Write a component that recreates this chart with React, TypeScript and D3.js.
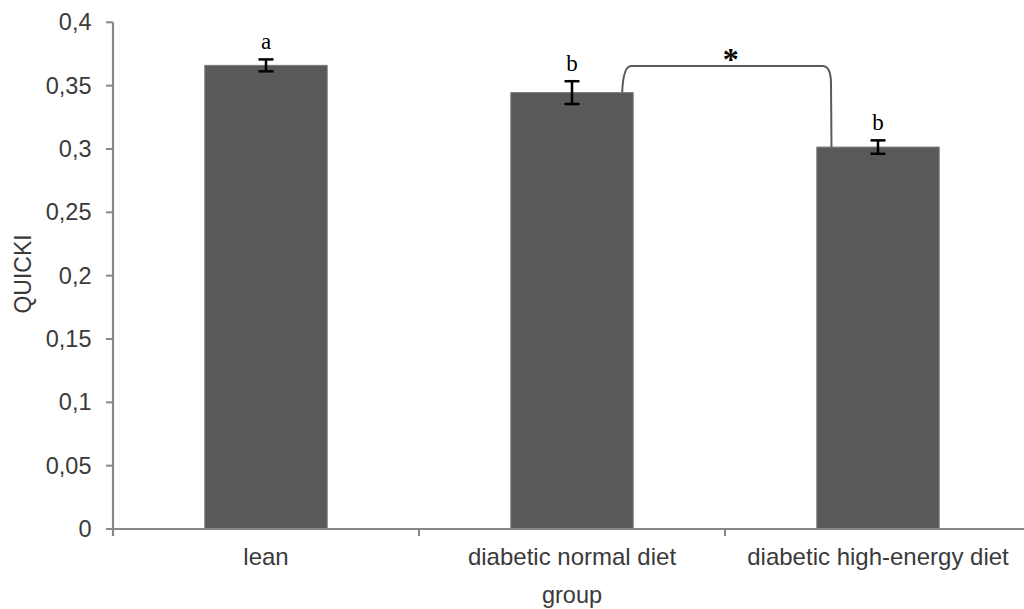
import React from 'react';
import * as d3 from 'd3';

// data
const categories = ['lean', 'diabetic normal diet', 'diabetic high-energy diet'];
const means = [0.366, 0.3445, 0.3015];
const errors = [0.0047, 0.009, 0.0053];
const letters = ['a', 'b', 'b'];
const yTicks = [0, 0.05, 0.1, 0.15, 0.2, 0.25, 0.3, 0.35, 0.4];
const yTickLabels = ['0', '0,05', '0,1', '0,15', '0,2', '0,25', '0,3', '0,35', '0,4'];
// significance bracket between group 2 and 3
const bracketLevel = 0.3655;

const width = 1024;
const height = 609;
const sans = '"Liberation Sans", Arial, sans-serif';
const serif = '"Liberation Serif", "Times New Roman", serif';
const axisColor = '#878787';
const textColor = '#3a3a3a';

export default function App () {
  const x = d3.scaleBand()
    .domain(categories)
    .range([113, 1031])
    .paddingInner(0.6)
    .paddingOuter(0.3);
  const y = d3.scaleLinear().domain([0, 0.4]).range([529, 22.3]);
  const bw = x.bandwidth();
  const step = x.step();
  const x0 = 113;

  // bracket path
  const bx1 = x(categories[1])! + bw * 0.91;
  const by1 = y(means[1]);
  const bx2 = x(categories[2])! + bw * 0.12;
  const by2 = y(means[2]);
  const top = y(bracketLevel);
  const bracket = d3.path();
  bracket.moveTo(bx1, by1);
  bracket.quadraticCurveTo(bx1 + 1, top, bx1 + 9, top);
  bracket.lineTo(bx2 - 9, top);
  bracket.quadraticCurveTo(bx2 - 1, top, bx2 - 0.5, top + 16);
  bracket.lineTo(bx2, by2);

  return (
    <svg width={width} height={height}
      style={{ position: 'absolute', left: 0, top: 0, display: 'block', background: '#fff' }}>
      {/* bars */}
      {categories.map((c, i) => (
        <rect key={c} x={x(c)} y={y(means[i])} width={bw} height={y(0) - y(means[i])}
          fill="#595959" stroke="#7c7c7c" strokeWidth={1} />
      ))}

      {/* axes */}
      <line x1={x0} x2={x0} y1={y(0.4)} y2={536} stroke={axisColor} strokeWidth={2.2} />
      <line x1={x0} x2={width} y1={y(0)} y2={y(0)} stroke={axisColor} strokeWidth={2.2} />
      {yTicks.map((t, i) => (
        <g key={t}>
          <line x1={106} x2={x0} y1={y(t)} y2={y(t)} stroke={axisColor} strokeWidth={2} />
          <text x={91.5} y={y(t) + 8} textAnchor="end" fontFamily={sans} fontSize={23.5} fill={textColor}>
            {yTickLabels[i]}
          </text>
        </g>
      ))}
      {d3.range(categories.length + 1).map(i => (
        <line key={i} x1={x0 + step * i} x2={x0 + step * i} y1={y(0)} y2={536}
          stroke={axisColor} strokeWidth={2} />
      ))}
      {categories.map(c => (
        <text key={c} x={x(c)! + bw / 2} y={565} textAnchor="middle" fontFamily={sans}
          fontSize={24} fill={textColor}>{c}</text>
      ))}
      <text x={572} y={603} textAnchor="middle" fontFamily={sans} fontSize={23.5} fill={textColor}>group</text>
      <text transform="translate(31,274) rotate(-90)" textAnchor="middle" fontFamily={sans}
        fontSize={23} fill={textColor}>QUICKI</text>

      {/* error bars */}
      {categories.map((c, i) => {
        const cx = x(c)! + bw / 2;
        return (
          <g key={c} stroke="#000" strokeWidth={2.5}>
            <line x1={cx} x2={cx} y1={y(means[i] + errors[i])} y2={y(means[i] - errors[i])} />
            <line x1={cx - 7.5} x2={cx + 7.5} y1={y(means[i] + errors[i])} y2={y(means[i] + errors[i])} />
            <line x1={cx - 7.5} x2={cx + 7.5} y1={y(means[i] - errors[i])} y2={y(means[i] - errors[i])} />
          </g>
        );
      })}
      {categories.map((c, i) => (
        <text key={c} x={x(c)! + bw / 2} y={y(means[i] + errors[i]) - 10} textAnchor="middle"
          fontFamily={serif} fontSize={23} fill="#000">{letters[i]}</text>
      ))}

      {/* significance bracket */}
      <path d={bracket.toString()} fill="none" stroke="#5a5a5a" strokeWidth={2} />
      <text x={(bx1 + bx2) / 2 + 4} y={top + 4} textAnchor="middle" fontFamily={serif} fontSize={32}
        fontWeight="bold" fill="#000">*</text>
    </svg>
  );
}
